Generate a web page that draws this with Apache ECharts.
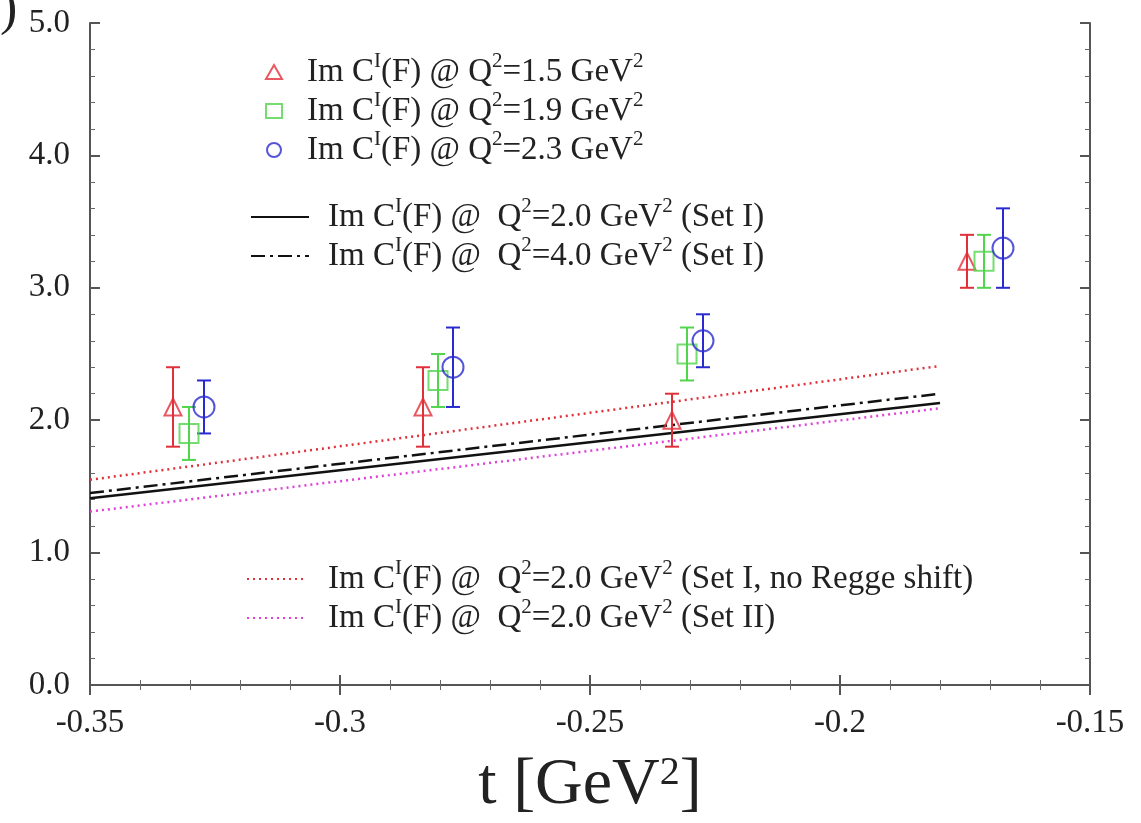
<!DOCTYPE html>
<html>
<head>
<meta charset="utf-8">
<script src="https://cdn.jsdelivr.net/npm/echarts@6/dist/echarts.min.js"></script>
<style>
  html, body { margin: 0; padding: 0; background: #fff; }
  #chart { width: 1141px; height: 823px; }
</style>
</head>
<body>
<div id="chart"></div>
<script>
// t values [GeV^2] and Im C^I(F) with error ranges
const tQ15 = [-0.3334, -0.2834, -0.2336, -0.1746]
const vQ15 = [2.1, 2.1, 2.0, 3.2]
const loQ15 = [1.8, 1.8, 1.8, 3.0]
const hiQ15 = [2.4, 2.4, 2.2, 3.4]

const tQ19 = [-0.3302, -0.2804, -0.2306, -0.1712]
const vQ19 = [1.9, 2.3, 2.5, 3.2]
const loQ19 = [1.7, 2.1, 2.3, 3.0]
const hiQ19 = [2.1, 2.5, 2.7, 3.4]

const tQ23 = [-0.3272, -0.2774, -0.2274, -0.1674]
const vQ23 = [2.1, 2.4, 2.6, 3.3]
const loQ23 = [1.9, 2.1, 2.4, 3.0]
const hiQ23 = [2.3, 2.7, 2.8, 3.6]

// model curves (end points)
const tCurve = [-0.35, -0.18]
const setI20 = [1.41, 2.13]
const setI40 = [1.45, 2.2]
const noRegge = [1.55, 2.41]
const setII = [1.31, 2.09]

const xTicks = ['-0.35', '-0.3', '-0.25', '-0.2', '-0.15']

const RED = '#e0303a'
const GREEN = '#52d44c'
const BLUE = '#2a2ad0'
const MAGENTA = '#e040d8'
const TEXT = '#222'
const FONT = 'Liberation Serif, DejaVu Serif, serif'

const names = {
  q15: 'Im C{s|I}(F) @ Q{s|2}=1.5 GeV{s|2}',
  q19: 'Im C{s|I}(F) @ Q{s|2}=1.9 GeV{s|2}',
  q23: 'Im C{s|I}(F) @ Q{s|2}=2.3 GeV{s|2}',
  s20: 'Im C{s|I}(F) @  Q{s|2}=2.0 GeV{s|2} (Set I)',
  s40: 'Im C{s|I}(F) @  Q{s|2}=4.0 GeV{s|2} (Set I)',
  nr: 'Im C{s|I}(F) @  Q{s|2}=2.0 GeV{s|2} (Set I, no Regge shift)',
  s2: 'Im C{s|I}(F) @  Q{s|2}=2.0 GeV{s|2} (Set II)'
}

const pts = (xs, ys) => xs.map((x, i) => [x, ys[i]])
const bars = (xs, lo, hi) => xs.map((x, i) => [x, lo[i], hi[i]])

function errorBars(name, color, data) {
  return {
    type: 'custom',
    name: name + '_err',
    data: data,
    z: 3,
    renderItem: function (params, api) {
      const top = api.coord([api.value(0), api.value(2)])
      const bot = api.coord([api.value(0), api.value(1)])
      const w = 7
      const st = { stroke: color, lineWidth: 2 }
      return {
        type: 'group',
        children: [
          { type: 'line', shape: { x1: top[0], y1: top[1], x2: bot[0], y2: bot[1] }, style: st },
          { type: 'line', shape: { x1: top[0] - w, y1: top[1], x2: top[0] + w, y2: top[1] }, style: st },
          { type: 'line', shape: { x1: bot[0] - w, y1: bot[1], x2: bot[0] + w, y2: bot[1] }, style: st }
        ]
      }
    }
  }
}

function lineSeries(name, color, ys, type, width) {
  return {
    type: 'line',
    name: name,
    data: pts(tCurve, ys),
    symbol: 'none',
    lineStyle: { color: color, width: width, type: type },
    itemStyle: { color: color },
    z: 2
  }
}

function legendBox(data, left, top, gap, w, h, pad, hideSymbol) {
  const lg = {
    data: data,
    orient: 'vertical',
    left: left,
    top: top,
    itemGap: gap,
    itemWidth: w,
    itemHeight: h,
    formatter: n => names[n],
    textStyle: {
      fontFamily: FONT,
      fontSize: 33,
      color: TEXT,
      lineHeight: 42,
      padding: [0, 0, 0, pad],
      rich: {
        s: { fontSize: 21, verticalAlign: 'top', lineHeight: 16, fontFamily: FONT, color: TEXT }
      }
    }
  }
  if (hideSymbol) lg.itemStyle = { opacity: 0 }
  return lg
}

const chart = echarts.init(document.getElementById('chart'))

const axisLineStyle = { color: '#555', width: 2 }
const minor = { show: true, splitNumber: 5, length: 5, lineStyle: { color: '#666', width: 1 } }

const option = {
  backgroundColor: '#fff',
  animation: false,
  grid: { left: 90, right: 51, top: 23, bottom: 138, outerBoundsMode: 'none' },
  legend: [
    legendBox(['q15', 'q19', 'q23'], 260, 46, -3, 16, 14, 20, false),
    legendBox(['s20', 's40'], 245, 191, -3, 58, 14, 14, true),
    legendBox(['nr', 's2'], 241, 553, -3, 58, 14, 18, true)
  ],
  graphic: [
    { type: 'text', left: 0, top: -16, style: { text: ')', font: '52px ' + FONT, fill: TEXT } }
  ],
  xAxis: [
    {
      type: 'value',
      min: -0.35,
      max: -0.15,
      interval: 0.05,
      position: 'bottom',
      axisLine: { lineStyle: axisLineStyle },
      axisTick: { inside: true, length: 10, lineStyle: axisLineStyle },
      minorTick: minor,
      splitLine: { show: false },
      axisLabel: {
        margin: 22,
        fontFamily: FONT,
        fontSize: 33,
        color: TEXT,
        formatter: v => xTicks[Math.round((v + 0.35) / 0.05)]
      },
      name: 't [GeV{s|2}]',
      nameLocation: 'middle',
      nameGap: 68,
      nameTextStyle: {
        fontFamily: FONT,
        fontSize: 66,
        color: TEXT,
        rich: { s: { fontSize: 40, verticalAlign: 'top', lineHeight: 30, fontFamily: FONT, color: TEXT } }
      }
    },
    {
      type: 'value',
      min: -0.35,
      max: -0.15,
      interval: 0.05,
      position: 'top',
      axisLine: { lineStyle: axisLineStyle },
      axisTick: { inside: true, length: 10, lineStyle: axisLineStyle },
      minorTick: minor,
      splitLine: { show: false },
      axisLabel: { show: false }
    }
  ],
  yAxis: [
    {
      type: 'value',
      min: 0,
      max: 5,
      interval: 1,
      position: 'left',
      axisLine: { show: true, lineStyle: axisLineStyle },
      axisTick: { show: true, inside: true, length: 10, lineStyle: axisLineStyle },
      minorTick: minor,
      splitLine: { show: false },
      axisLabel: {
        margin: 20,
        fontFamily: FONT,
        fontSize: 33,
        color: TEXT,
        formatter: v => v.toFixed(1)
      }
    },
    {
      type: 'value',
      min: 0,
      max: 5,
      interval: 1,
      position: 'right',
      axisLine: { show: true, lineStyle: axisLineStyle },
      axisTick: { show: true, inside: true, length: 10, lineStyle: axisLineStyle },
      minorTick: minor,
      splitLine: { show: false },
      axisLabel: { show: false }
    }
  ],
  series: [
    lineSeries('nr', RED, noRegge, [2, 4], 2.5),
    lineSeries('s2', MAGENTA, setII, [2, 4], 2.5),
    lineSeries('s20', '#111', setI20, 'solid', 2.5),
    lineSeries('s40', '#111', setI40, [14, 5, 3, 5], 2.5),
    errorBars('q15', RED, bars(tQ15, loQ15, hiQ15)),
    errorBars('q19', GREEN, bars(tQ19, loQ19, hiQ19)),
    errorBars('q23', BLUE, bars(tQ23, loQ23, hiQ23)),
    {
      type: 'scatter', name: 'q15', data: pts(tQ15, vQ15), symbol: 'triangle', symbolSize: 17, z: 4,
      itemStyle: { color: 'rgba(255,255,255,0)', borderColor: RED, borderWidth: 2 }
    },
    {
      type: 'scatter', name: 'q19', data: pts(tQ19, vQ19), symbol: 'rect', symbolSize: 19, z: 4,
      itemStyle: { color: 'rgba(255,255,255,0)', borderColor: GREEN, borderWidth: 2 }
    },
    {
      type: 'scatter', name: 'q23', data: pts(tQ23, vQ23), symbol: 'circle', symbolSize: 21, z: 4,
      itemStyle: { color: 'rgba(255,255,255,0)', borderColor: BLUE, borderWidth: 2 }
    }
  ]
}

chart.setOption(option)
</script>
</body>
</html>
